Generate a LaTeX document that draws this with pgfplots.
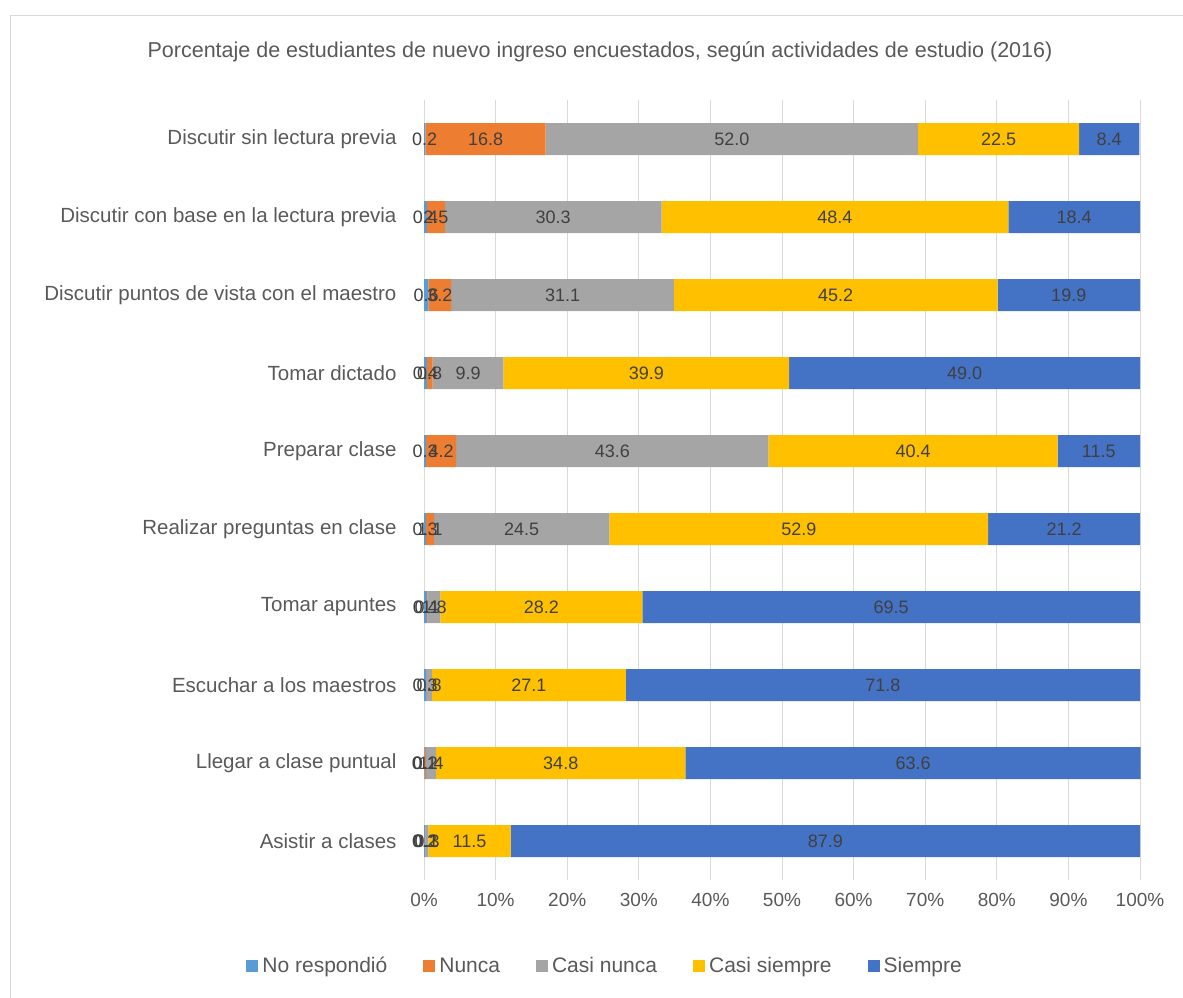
\documentclass[border=0pt]{standalone}
\usepackage{pgfplots}
\pgfplotsset{compat=1.18}
\usepackage{pgfplotstable}
\usepackage{fontspec}
\setmainfont{Liberation Sans}
\definecolor{cNR}{HTML}{5B9BD5}
\definecolor{cNU}{HTML}{ED7D31}
\definecolor{cCN}{HTML}{A5A5A5}
\definecolor{cCS}{HTML}{FFC000}
\definecolor{cSI}{HTML}{4472C4}
\definecolor{textgray}{HTML}{595959}
\definecolor{labgray}{HTML}{404040}
\definecolor{gridc}{HTML}{D9D9D9}
\pgfplotstableread{
y nr nu cn cs si
0 0.2 0.1 0.3 11.5 87.9
1 0.1 0.2 1.4 34.8 63.6
2 0.3 0.0 0.8 27.1 71.8
3 0.4 0.1 1.8 28.2 69.5
4 0.3 1.1 24.5 52.9 21.2
5 0.3 4.2 43.6 40.4 11.5
6 0.4 0.8 9.9 39.9 49.0
7 0.6 3.2 31.1 45.2 19.9
8 0.4 2.5 30.3 48.4 18.4
9 0.2 16.8 52.0 22.5 8.4
}\data
\begin{document}
\begin{tikzpicture}
\path[use as bounding box] (0pt,0pt) rectangle (1183pt,-998pt);
\draw[gridc,line width=1pt] (10.5pt,-1000pt) -- (10.5pt,-15.5pt) -- (1190pt,-15.5pt);
\node[text=textgray,font=\fontsize{21.5}{24}\selectfont] at (600pt,-52pt) {Porcentaje de estudiantes de nuevo ingreso encuestados, según actividades de estudio (2016)};
\begin{axis}[
  at={(424pt,-880pt)}, anchor=south west,
  scale only axis, width=716pt, height=780pt,
  xbar stacked, bar width=32pt,
  xmin=0, xmax=100, ymin=-0.5, ymax=9.5,
  xtick={0,10,...,100},
  xticklabel={\pgfmathprintnumber{\tick}\%},
  ytick={0,...,9},
  yticklabels={Asistir a clases, Llegar a clase puntual, Escuchar a los maestros, Tomar apuntes, Realizar preguntas en clase, Preparar clase, Tomar dictado, Discutir puntos de vista con el maestro, Discutir con base en la lectura previa, Discutir sin lectura previa},
  xmajorgrids, major grid style={gridc, line width=1pt},
  axis line style={draw=none}, major tick length=0pt,
  tick label style={text=textgray},
  xticklabel style={font=\fontsize{19}{22}\selectfont, yshift=-10pt},
  yticklabel style={font=\fontsize{20.5}{23}\selectfont, xshift=-24pt},
  /pgf/number format/assume math mode=true,
  point meta=explicit,
  nodes near coords={\pgfmathprintnumber[fixed,fixed zerofill,precision=1]{\pgfplotspointmeta}},
  every node near coord/.append style={anchor=center, text=labgray, font=\fontsize{18}{20}\selectfont},
  legend columns=5,
  legend style={draw=none, at={(0.253,-0.110)}, anchor=center, font=\fontsize{21}{24}\selectfont, text=textgray, /tikz/every even column/.append style={column sep=34pt}, /tikz/every odd column/.append style={column sep=2pt}},
  legend image code/.code={\fill[#1] (0pt,-6pt) rectangle (12pt,6pt);},
  clip=false,
]
\addplot[fill=cNR, draw=none] table[x=nr, y=y, meta=nr] {\data};
\addplot[fill=cNU, draw=none] table[x=nu, y=y, meta=nu] {\data};
\addplot[fill=cCN, draw=none] table[x=cn, y=y, meta=cn] {\data};
\addplot[fill=cCS, draw=none] table[x=cs, y=y, meta=cs] {\data};
\addplot[fill=cSI, draw=none] table[x=si, y=y, meta=si] {\data};
\legend{No respondió, Nunca, Casi nunca, Casi siempre, Siempre}
\end{axis}
\end{tikzpicture}
\end{document}
